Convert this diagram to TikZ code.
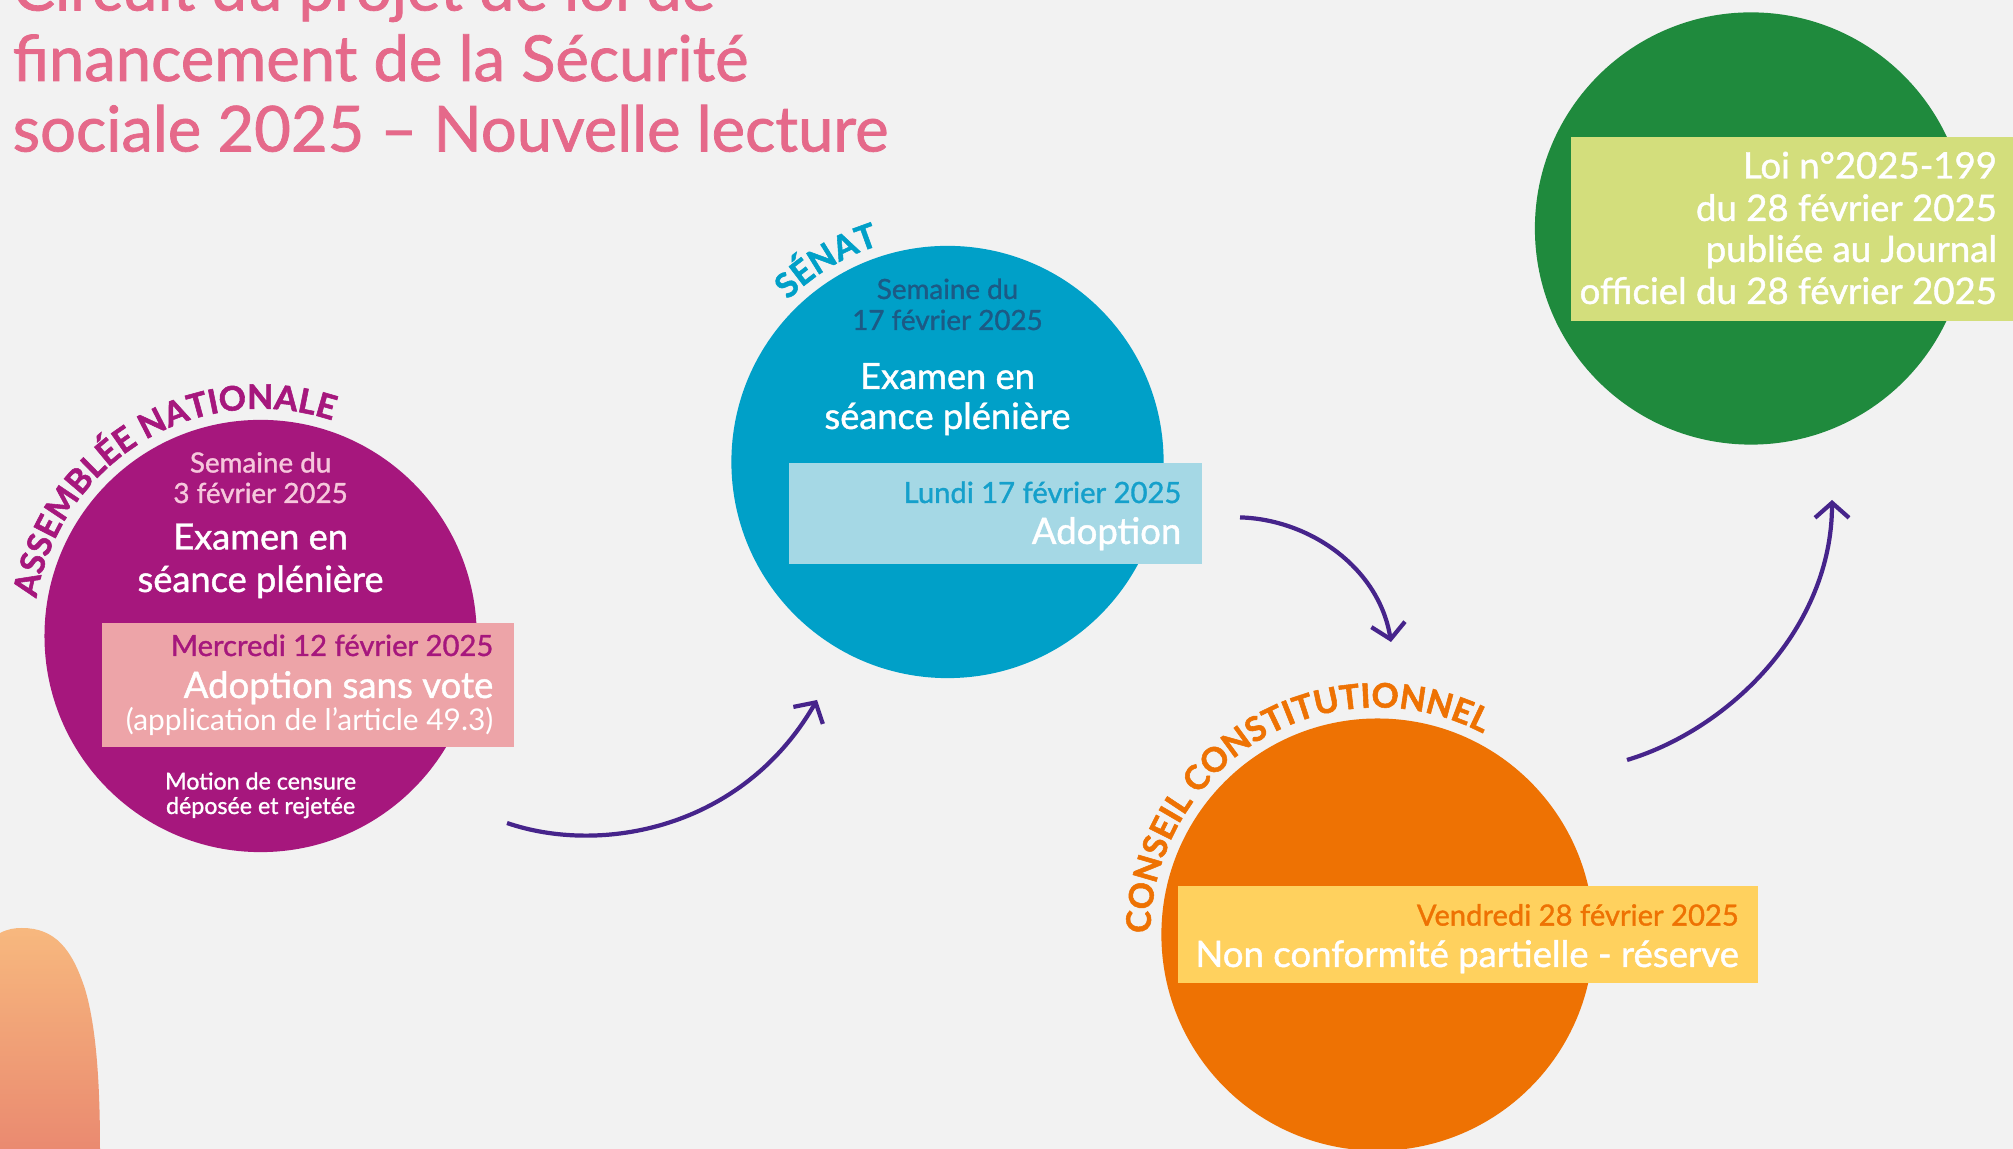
\documentclass[tikz,border=0pt]{standalone}
\usepackage{fontspec}
\setmainfont{Lato}
\newfontfamily\medfont{Lato}[FakeBold=1.2]
\newfontfamily\arcfam{Lato}[FakeBold=1.6]
\usepackage{xcolor}
\usepackage{tikz}
\usetikzlibrary{arrows.meta,decorations.text,calc}

\definecolor{bg}{HTML}{F2F2F2}
\definecolor{titlepink}{HTML}{E5698A}
\definecolor{anpurple}{HTML}{A6177D}
\definecolor{anpink}{HTML}{EDA4A8}
\definecolor{anlight}{HTML}{F6C7DC}
\definecolor{senblue}{HTML}{00A0C8}
\definecolor{senlight}{HTML}{A5D8E5}
\definecolor{sennavy}{HTML}{1C5A85}
\definecolor{senmid}{HTML}{15A0CB}
\definecolor{ccorange}{HTML}{EE7203}
\definecolor{ccyellow}{HTML}{FFD15E}
\definecolor{loigreen}{HTML}{1F8A3D}
\definecolor{loilime}{HTML}{D3DE7C}
\definecolor{arrowviolet}{HTML}{46248B}
\definecolor{blobtop}{HTML}{F7B87E}
\definecolor{blobbot}{HTML}{EA8A70}

\newcommand{\fsz}[1]{\fontsize{#1}{#1}\selectfont}
\newcommand{\arcfont}{\arcfam\bfseries\fsz{9.6}}

\begin{document}
\begin{tikzpicture}[x=0.01cm, y=0.01cm,
  disc/.style={circle, minimum size=4.32cm, inner sep=0pt},
  band/.style={rectangle, inner sep=0pt, outer sep=0pt},
  headline/.style={anchor=base west, inner sep=0pt, text=titlepink, font=\medfont\fsz{18}},
  week/.style={anchor=base, inner sep=0pt, font=\medfont\fsz{7.9}},
  exam/.style={anchor=base, inner sep=0pt, text=white, font=\medfont\fsz{10.3}},
  day/.style={anchor=base east, inner sep=0pt, font=\medfont\fsz{8.3}},
  verdict/.style={anchor=base east, inner sep=0pt, text=white, font=\medfont\fsz{10.4}},
  note/.style={anchor=base, inner sep=0pt, text=white, font=\medfont\fsz{6.6}},
  arclabel/.style={decorate, decoration={text along path, text align=center}},
  arr/.style={draw=arrowviolet, line width=1.2pt, -{Straight Barb[length=1.5mm, width=3.4mm]}}
]
\useasboundingbox (0,0) rectangle (2013,1149);
\fill[bg] (0,0) rectangle (2013,1149);

% corner shape
\shade[top color=blobtop, bottom color=blobbot] (0,216) .. controls (8,220) and (14,221) .. (22,221)
  .. controls (55,221) and (72,200) .. (85,160) .. controls (97,120) and (100,60) .. (100,0) -- (0,0) -- cycle;

% title
\node[headline] (t1) at (12,1138.5) {Circuit du projet de loi de};
\node[headline] (t2) at (12,1068) {financement de la Sécurité};
\node[headline] (t3) at (12,997.5) {sociale 2025 – Nouvelle lecture};

% assemblee nationale
\node[disc, fill=anpurple] (an) at (260.6,513) {};
\path[arclabel, decoration={text={|\arcfont\color{anpurple}|ASSEMBLÉE NATIONALE}}]
  ($(an)+(191:2.27cm)$) arc[start angle=191, end angle=51, radius=2.27cm];
\node[week, text=anlight] (an-w1) at (260.6,676.5) {Semaine du};
\node[week, text=anlight] (an-w2) at (260.6,646) {3 février 2025};
\node[exam] (an-e1) at (260.6,599.5) {Examen en};
\node[exam] (an-e2) at (260.6,557) {séance plénière};
\node[band, fill=anpink, minimum width=4.11cm, minimum height=1.246cm] (an-box) at (308.1,464.1) {};
\node[day, text=anpurple] (an-d) at (494,493) {Mercredi 12 février 2025};
\node[verdict] (an-v1) at (494,451) {Adoption sans vote};
\node[verdict, font=\fsz{8.5}] (an-v2) at (494,418.5) {(application de l’article 49.3)};
\node[note] (an-n1) at (260.6,359.5) {Motion de censure};
\node[note] (an-n2) at (260.6,335) {déposée et rejetée};

% senat
\node[disc, fill=senblue] (senat) at (947.5,687) {};
\path[arclabel, decoration={text={|\arcfont\color{senblue}|SÉNAT}}]
  ($(senat)+(191:2.27cm)$) arc[start angle=191, end angle=51, radius=2.27cm];
\node[week, text=sennavy] (sen-w1) at (947.5,850) {Semaine du};
\node[week, text=sennavy] (sen-w2) at (947.5,819) {17 février 2025};
\node[exam] (sen-e1) at (947.5,760) {Examen en};
\node[exam] (sen-e2) at (947.5,720) {séance plénière};
\node[band, fill=senlight, minimum width=4.121cm, minimum height=1.001cm] (sen-box) at (995.5,635.5) {};
\node[day, text=senmid] (sen-d) at (1182,646) {Lundi 17 février 2025};
\node[verdict] (sen-v) at (1182,605) {Adoption};

% conseil constitutionnel
\node[disc, fill=ccorange] (cc) at (1377.5,214.4) {};
\path[arclabel, decoration={text={|\arcfont\color{ccorange}|CONSEIL CONSTITUTIONNEL}}]
  ($(cc)+(191:2.27cm)$) arc[start angle=191, end angle=51, radius=2.27cm];
\node[band, fill=ccyellow, minimum width=5.79cm, minimum height=0.976cm] (cc-box) at (1468,214.4) {};
\node[day, text=ccorange] (cc-d) at (1739.5,223.4) {Vendredi 28 février 2025};
\node[verdict] (cc-v) at (1739.5,182) {Non conformité partielle - réserve};

% loi
\node[disc, fill=loigreen] (loi) at (1751,920.5) {};
\node[band, fill=loilime, minimum width=4.42cm, minimum height=1.836cm] (loi-box) at (1792,919.8) {};
\node[verdict] (loi-1) at (1997.6,970.5) {Loi n°2025-199};
\node[verdict] (loi-2) at (1997.6,928) {du 28 février 2025};
\node[verdict] (loi-3) at (1997.6,887) {publiée au Journal};
\node[verdict] (loi-4) at (1997.6,845) {officiel du 28 février 2025};

% arrows
\coordinate (an-out) at (507,326);
\coordinate (sen-in) at (817,449);
\coordinate (sen-out) at (1240,631.6);
\coordinate (cc-in) at (1391,507);
\coordinate (cc-out) at (1627,389);
\coordinate (loi-in) at (1832,649);
\draw[arr] (an-out) .. controls +(93,-32) and +(-75,-130) .. (sen-in);
\draw[arr] (sen-out) .. controls +(70,-2) and +(-12,74) .. (cc-in);
\draw[arr] (cc-out) .. controls +(103,31) and +(0,-128) .. (loi-in);
\end{tikzpicture}
\end{document}
